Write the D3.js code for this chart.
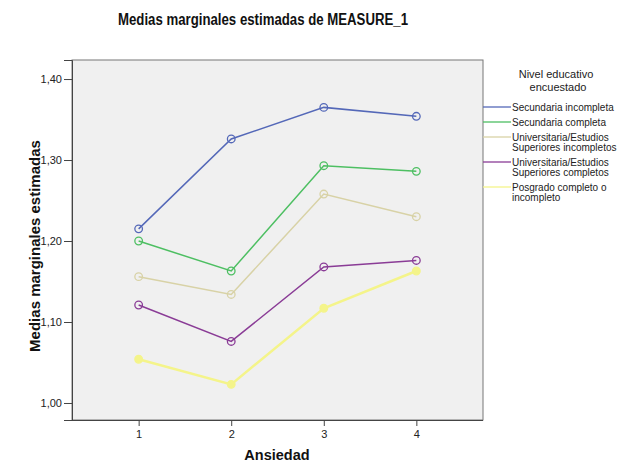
<!DOCTYPE html>
<html><head><meta charset="utf-8">
<script src="https://cdn.jsdelivr.net/npm/d3@7"></script>
<style>body{margin:0;background:#fff;}svg{display:block;font-family:"Liberation Sans",Arial,sans-serif;}</style>
</head><body>
<script>
const categories = [1, 2, 3, 4];
const seriesNames = [
  ["Secundaria incompleta"],
  ["Secundaria completa"],
  ["Universitaria/Estudios", "Superiores incompletos"],
  ["Universitaria/Estudios", "Superiores completos"],
  ["Posgrado completo o", "incompleto"]
];
const secIncompleta = [1.215, 1.326, 1.365, 1.354];
const secCompleta = [1.200, 1.163, 1.293, 1.286];
const uniIncompletos = [1.156, 1.134, 1.258, 1.230];
const uniCompletos = [1.121, 1.076, 1.168, 1.176];
const posgrado = [1.054, 1.023, 1.117, 1.163];
const seriesValues = [secIncompleta, secCompleta, uniIncompletos, uniCompletos, posgrado];
const colors = ["#5468b8", "#4dbf62", "#d8d2a6", "#8a3c96", "#f4f48a"];
const widths = [1.5, 1.5, 1.5, 1.5, 2.5];
const yTicks = [1.00, 1.10, 1.20, 1.30, 1.40];

const W = 641, H = 462;
const L = 72, R = 483, T = 60, B = 420;
const svg = d3.select("body").append("svg").attr("width", W).attr("height", H);

const x = d3.scalePoint().domain(categories).range([L, R]).padding(0.72);
const y = d3.scaleLinear().domain([0.979, 1.4235]).range([B, T]);

svg.append("rect").attr("x", L).attr("y", T).attr("width", R - L).attr("height", B - T)
  .attr("fill", "#f0f0f0").attr("stroke", "#777").attr("stroke-width", 1);

// axes
const yAxis = d3.axisLeft(y).tickValues(yTicks).tickSize(8).tickPadding(2)
  .tickFormat(d => d3.format(".2f")(d).replace(".", ","));
const gy = svg.append("g").attr("transform", `translate(${L},0)`).call(yAxis);
gy.select(".domain").attr("stroke", "#444");
gy.selectAll(".tick line").attr("stroke", "#444");
gy.selectAll("text").attr("font-size", 11).attr("fill", "#222");

const xAxis = d3.axisBottom(x).tickSize(6).tickPadding(4);
const gx = svg.append("g").attr("transform", `translate(0,${B})`).call(xAxis);
gx.select(".domain").attr("stroke", "#444").attr("d", `M${L},0.5H${R}`);
gx.selectAll(".tick line").attr("stroke", "#444");
gx.selectAll("text").attr("font-size", 11).attr("fill", "#222");

// lines
const line = d3.line().x((d, i) => x(categories[i])).y(d => y(d));
seriesValues.forEach((vals, k) => {
  svg.append("path").datum(vals).attr("d", line).attr("fill", "none")
    .attr("stroke", colors[k]).attr("stroke-width", widths[k]);
  svg.selectAll(null).data(vals).enter().append("circle")
    .attr("cx", (d, i) => x(categories[i])).attr("cy", d => y(d)).attr("r", 3.8)
    .attr("fill", k === 4 ? colors[k] : "none").attr("stroke", colors[k]).attr("stroke-width", 1.3);
});

// titles
svg.append("text").attr("x", 263).attr("y", 25).attr("text-anchor", "middle")
  .attr("font-size", 16).attr("font-weight", "bold").attr("fill", "#111")
  .attr("textLength", 290).attr("lengthAdjust", "spacingAndGlyphs")
  .text("Medias marginales estimadas de MEASURE_1");
svg.append("text").attr("transform", "translate(40,246) rotate(-90)").attr("text-anchor", "middle")
  .attr("font-size", 15).attr("font-weight", "bold").attr("fill", "#111")
  .text("Medias marginales estimadas");
svg.append("text").attr("x", 277).attr("y", 460).attr("text-anchor", "middle")
  .attr("font-size", 14.5).attr("font-weight", "bold").attr("fill", "#111")
  .text("Ansiedad");

// legend
const lg = svg.append("g");
lg.append("text").attr("x", 556).attr("y", 78).attr("text-anchor", "middle")
  .attr("font-size", 11).attr("fill", "#222").text("Nivel educativo");
lg.append("text").attr("x", 558).attr("y", 91).attr("text-anchor", "middle")
  .attr("font-size", 11).attr("fill", "#222").text("encuestado");
const legY = [107, 122, 137, 162, 187];
seriesNames.forEach((lines, k) => {
  lg.append("line").attr("x1", R).attr("x2", 511).attr("y1", legY[k]).attr("y2", legY[k])
    .attr("stroke", colors[k]).attr("stroke-width", 1.3);
  lines.forEach((t, j) => {
    lg.append("text").attr("x", 512).attr("y", legY[k] + 3.5 + j * 10.5)
      .attr("font-size", 10).attr("fill", "#222").text(t);
  });
});
</script>
</body></html>
